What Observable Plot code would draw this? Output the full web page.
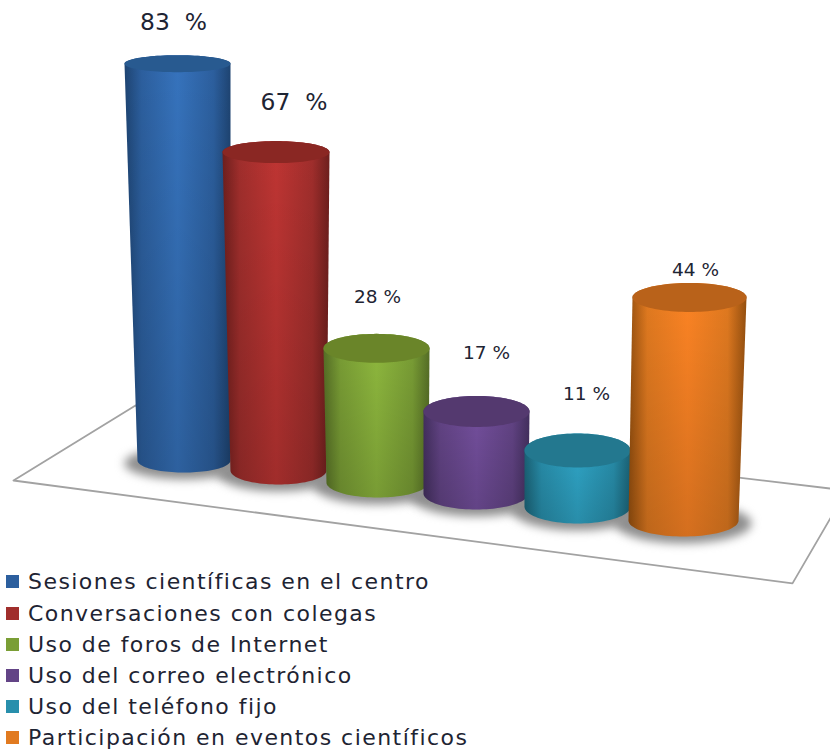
<!DOCTYPE html>
<html lang="es">
<head>
<meta charset="utf-8">
<script src="https://cdn.jsdelivr.net/npm/d3@7"></script>
<script src="https://cdn.jsdelivr.net/npm/@observablehq/plot@0.6"></script>
<style>
  html, body { margin: 0; padding: 0; background: #fff; overflow: hidden; width: 830px; height: 752px; }
  #legend { position: relative; margin-top: 0.4px; font-family: "DejaVu Sans", sans-serif; font-size: 22px; letter-spacing: 1.45px; color: #1e2433; }
  #legend .row { height: 31.2px; line-height: 31.2px; white-space: nowrap; display: flex; align-items: center; }
  #legend .sw { width: 13px; height: 13px; margin-left: 6px; margin-right: 9px; flex: none; }
</style>
</head>
<body>
<div id="chart"></div>
<div id="legend"></div>
<script>
// ---- Data ----
const categories = [
  "Sesiones científicas en el centro",
  "Conversaciones con colegas",
  "Uso de foros de Internet",
  "Uso del correo electrónico",
  "Uso del teléfono fijo",
  "Participación en eventos científicos"
];
const values = [83, 67, 28, 17, 11, 44];
const valueLabels = ["83  %", "67  %", "28 %", "17 %", "11 %", "44 %"];

// ---- Colours ----
const brightColors = ["#3673bd", "#bf3533", "#8fb93e", "#75509f", "#30a8ca", "#fd8424"];
const midColors    = ["#2c5f9e", "#a02e2c", "#7a9e35", "#634486", "#288fac", "#e17a20"];
const edgeColors   = ["#1e4472", "#6e1f1d", "#566f26", "#443060", "#1b6478", "#96500f"];
const capColors    = ["#285a90", "#8a2723", "#6a8529", "#54396f", "#23788f", "#b9621a"];

// ---- 3-D look of the picture: slots along the floor, levels up the value axis ----
const levelPx = 4.8;                 // screen pixels per percentage point
const topSlot   = [0, 0.985, 1.99, 2.99, 4, 5.12];
const topHalf   = [0.53, 0.535, 0.53, 0.53, 0.53, 0.57];
const baseSlot  = [0.065, 1.01, 2, 2.985, 4, 5.06];
const baseHalf  = [0.465, 0.48, 0.51, 0.525, 0.53, 0.55];
const baseLevel = [0, -2.08, -4.58, -6.87, -9.58, -12.5];
const stretch   = [0.996, 0.99, 0.998, 1.005, 1.06, 1.056];
const capRy     = [8.5, 11, 14.5, 15.5, 17, 14.5];
const baseRy    = [12, 14, 15, 16, 17, 16];
const labelDx   = [-0.04, 0.18, 0.01, 0.10, 0.09, 0.06];
const labelGap  = [41, 50, 51, 58, 56, 27];
const labelSize = [23.4, 23.4, 18.5, 18.5, 18.5, 18.5];
const floorSlot  = [-0.42, -1.64, 6.15, 6.69, -0.42];
const floorLevel = [11.46, -4.17, -25.6, -6.25, 11.46];

const topLevel = values.map((v, i) => baseLevel[i] + v * stretch[i]);
const turn = d3.range(0, 49).map(k => k * Math.PI / 48);

const capOutline = i => [...turn, ...turn.map(a => a + Math.PI)].map(a => ({
  x: topSlot[i] + topHalf[i] * Math.cos(a),
  y: topLevel[i] + capRy[i] / levelPx * Math.sin(a)
}));
const sideOutline = i => [
  ...turn.map(a => ({
    x: topSlot[i] + topHalf[i] * Math.cos(a),
    y: topLevel[i] + capRy[i] / levelPx * Math.sin(a)
  })),
  ...turn.map(a => ({
    x: baseSlot[i] - baseHalf[i] * Math.cos(a),
    y: baseLevel[i] - baseRy[i] / levelPx * Math.sin(a)
  }))
];
const shadowOutline = i => [...turn, ...turn.map(a => a + Math.PI)].map(a => ({
  x: baseSlot[i] + (baseHalf[i] + 0.13) * Math.cos(a),
  y: baseLevel[i] - 0.6 + (baseRy[i] + 4) / levelPx * Math.sin(a)
}));

const defs = () => {
  const d = d3.create("svg:defs");
  categories.forEach((_, i) => {
    const g = d.append("linearGradient").attr("id", `side${i}`).attr("x1", 0).attr("x2", 1).attr("y1", 0).attr("y2", 0);
    [[0, edgeColors[i]], [0.16, midColors[i]], [0.5, brightColors[i]], [0.84, midColors[i]], [1, edgeColors[i]]]
      .forEach(([o, c]) => g.append("stop").attr("offset", o).attr("stop-color", c));
  });
  const f = d.append("linearGradient").attr("id", "fade").attr("x1", 0).attr("x2", 0).attr("y1", 0).attr("y2", 1);
  f.append("stop").attr("offset", 0).attr("stop-color", "#000").attr("stop-opacity", 0);
  f.append("stop").attr("offset", 1).attr("stop-color", "#000").attr("stop-opacity", 0.16);
  return d.node();
};

const xy = { x: "x", y: "y" };
const marks = [
  defs,
  Plot.line(floorSlot.map((x, k) => ({ x, y: floorLevel[k] })), { ...xy, stroke: "#a2a2a2", strokeWidth: 1.8, imageFilter: "blur(0.4px)" }),
  ...categories.map((_, i) => Plot.line(shadowOutline(i), { ...xy, fill: "#8e8e8e", stroke: "none", imageFilter: "blur(5px)" })),
  ...categories.flatMap((_, i) => [
    Plot.line(sideOutline(i), { ...xy, fill: `url(#side${i})`, stroke: "none" }),
    Plot.line(sideOutline(i), { ...xy, fill: "url(#fade)", stroke: "none" }),
    Plot.line(capOutline(i), { ...xy, fill: capColors[i], stroke: "none" })
  ]),
  ...categories.map((_, i) => Plot.text([valueLabels[i]], {
    x: () => topSlot[i] + labelDx[i],
    y: () => topLevel[i] + labelGap[i] / levelPx,
    text: d => d,
    fontSize: labelSize[i],
    fill: "#1e2433",
    lineAnchor: "middle",
    textAnchor: "middle"
  }))
];

const chart = Plot.plot({
  width: 830,
  height: 566,
  margin: 0,
  x: { domain: [-1.77, 6.53], axis: null },
  y: { domain: [-106 / levelPx, 460 / levelPx], axis: null },
  style: { overflow: "visible", background: "transparent", fontFamily: "'DejaVu Sans', sans-serif", whiteSpace: "pre" },
  marks
});
document.getElementById("chart").append(chart);

const legend = d3.select("#legend");
categories.forEach((c, i) => {
  const row = legend.append("div").attr("class", "row");
  row.append("span").attr("class", "sw").style("background", midColors[i]);
  row.append("span").text(c);
});
</script>
</body>
</html>
